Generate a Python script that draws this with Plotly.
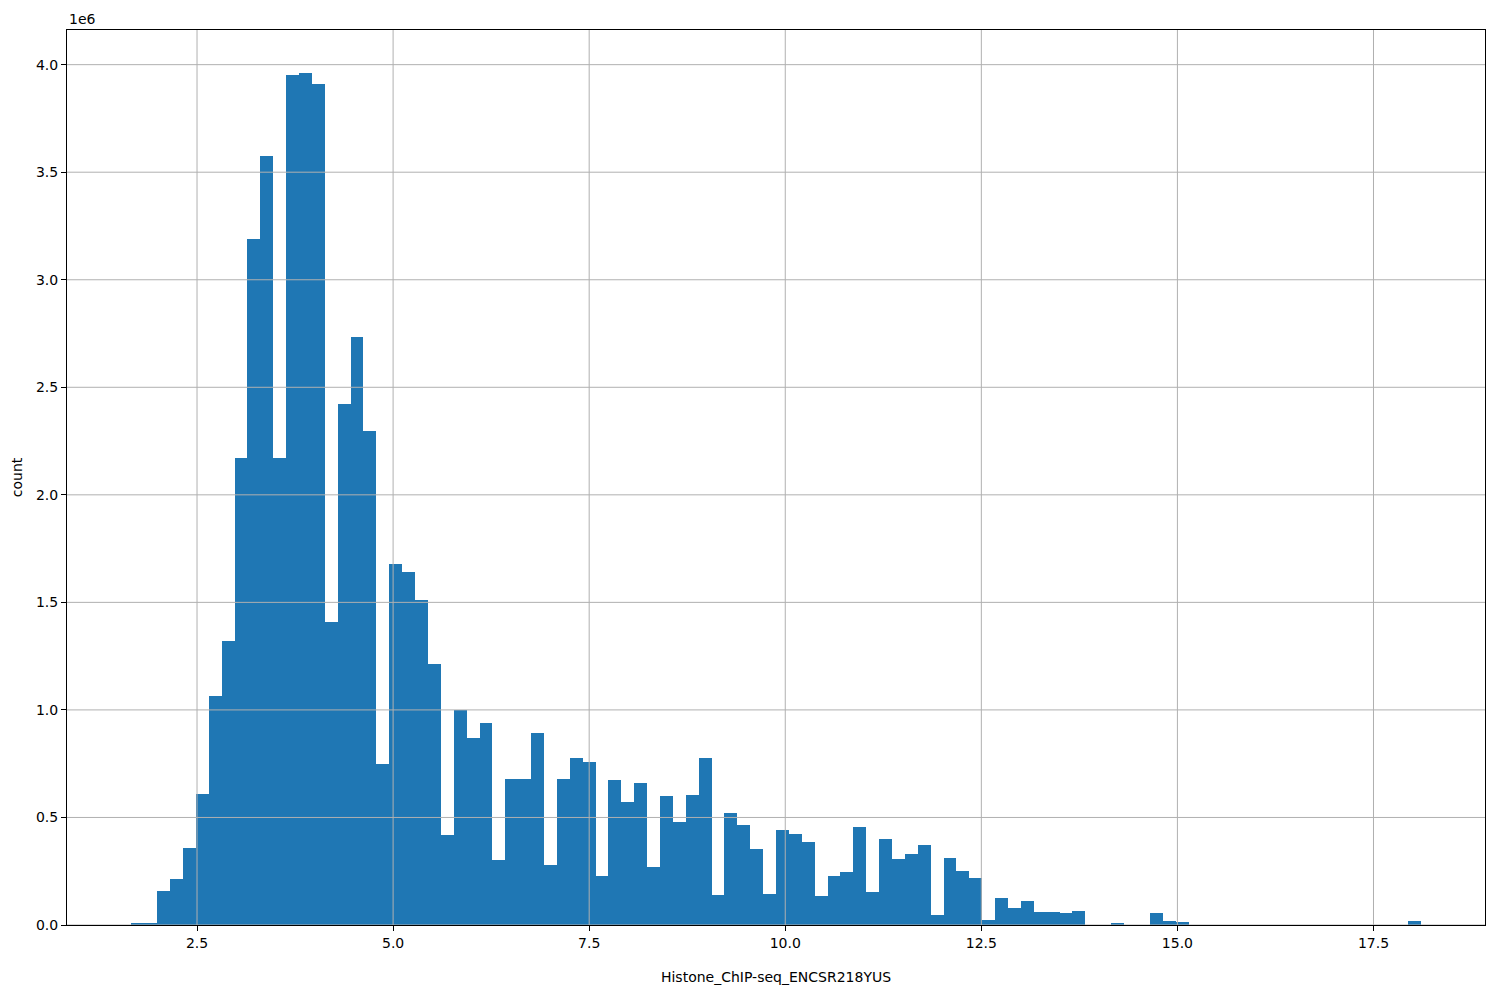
import numpy as np
import plotly.graph_objects as go

# Histogram: 100 equal bins between data min and max
bin_min = 1.664
bin_max = 18.10
counts_millions = [
    0.005, 0.010, 0.158, 0.214, 0.360, 0.610, 1.065, 1.320, 2.170, 3.190,
    3.575, 2.170, 3.953, 3.963, 3.912, 1.410, 2.420, 2.735, 2.295, 0.750,
    1.680, 1.640, 1.510, 1.215, 0.420, 1.000, 0.870, 0.940, 0.300, 0.680,
    0.680, 0.895, 0.280, 0.680, 0.775, 0.760, 0.230, 0.675, 0.570, 0.660,
    0.270, 0.600, 0.480, 0.605, 0.775, 0.140, 0.520, 0.465, 0.355, 0.145,
    0.440, 0.425, 0.385, 0.135, 0.230, 0.245, 0.455, 0.155, 0.400, 0.305,
    0.330, 0.370, 0.047, 0.310, 0.251, 0.219, 0.023, 0.126, 0.079, 0.112,
    0.060, 0.060, 0.056, 0.065, 0.000, 0.000, 0.009, 0.000, 0.000, 0.056,
    0.019, 0.014, 0.000, 0.000, 0.000, 0.000, 0.000, 0.000, 0.000, 0.000,
    0.000, 0.000, 0.000, 0.000, 0.000, 0.000, 0.000, 0.000, 0.000, 0.019,
]
x_ticks = [2.5, 5.0, 7.5, 10.0, 12.5, 15.0, 17.5]
y_ticks_millions = [0.0, 0.5, 1.0, 1.5, 2.0, 2.5, 3.0, 3.5, 4.0]
x_label = "Histone_ChIP-seq_ENCSR218YUS"
y_label = "count"

n_bins = len(counts_millions)
edges = np.linspace(bin_min, bin_max, n_bins + 1)
centers = (edges[:-1] + edges[1:]) / 2
width = edges[1] - edges[0]
counts = np.array(counts_millions) * 1e6

span = bin_max - bin_min
x_range = [bin_min - 0.05 * span, bin_max + 0.05 * span]
y_range = [0, counts.max() * 1.05]

font = dict(family="DejaVu Sans", size=14, color="black")
grid_color = "#b0b0b0"

fig = go.Figure()
fig.add_trace(go.Bar(
    x=centers, y=counts, width=width,
    marker=dict(color="#1f77b4", line=dict(width=0)),
    hoverinfo="x+y",
))

axis_common = dict(
    showline=True, linecolor="black", linewidth=1, mirror=True,
    ticks="outside", ticklen=5, tickcolor="black", tickwidth=1,
    showgrid=False, zeroline=False, tickfont=font, layer="above traces",
)

# grid lines drawn above the bars, as matplotlib does
shapes = []
for v in x_ticks:
    shapes.append(dict(type="line", xref="x", yref="paper", x0=v, x1=v, y0=0, y1=1,
                       line=dict(color=grid_color, width=1), layer="above"))
for v in y_ticks_millions:
    shapes.append(dict(type="line", xref="paper", yref="y", x0=0, x1=1, y0=v * 1e6, y1=v * 1e6,
                       line=dict(color=grid_color, width=1), layer="above"))

fig.update_layout(
    width=1484, height=984,
    margin=dict(l=59, r=7, t=22, b=67),
    paper_bgcolor="white", plot_bgcolor="white",
    showlegend=False, bargap=0,
    font=font,
    shapes=shapes,
    xaxis=dict(
        range=x_range, tickvals=x_ticks,
        ticktext=[f"{v:.1f}" for v in x_ticks],
        title=dict(text=x_label, font=font, standoff=22),
        **axis_common,
    ),
    yaxis=dict(
        range=y_range, tickvals=[v * 1e6 for v in y_ticks_millions],
        ticktext=[f"{v:.1f}" for v in y_ticks_millions],
        title=dict(text=y_label, font=font, standoff=10),
        **axis_common,
    ),
    annotations=[dict(
        text="1e6", xref="paper", yref="paper", x=0, y=1,
        xanchor="left", yanchor="bottom", showarrow=False, font=font,
        yshift=1,
    )],
)

fig.write_html("out.html")
